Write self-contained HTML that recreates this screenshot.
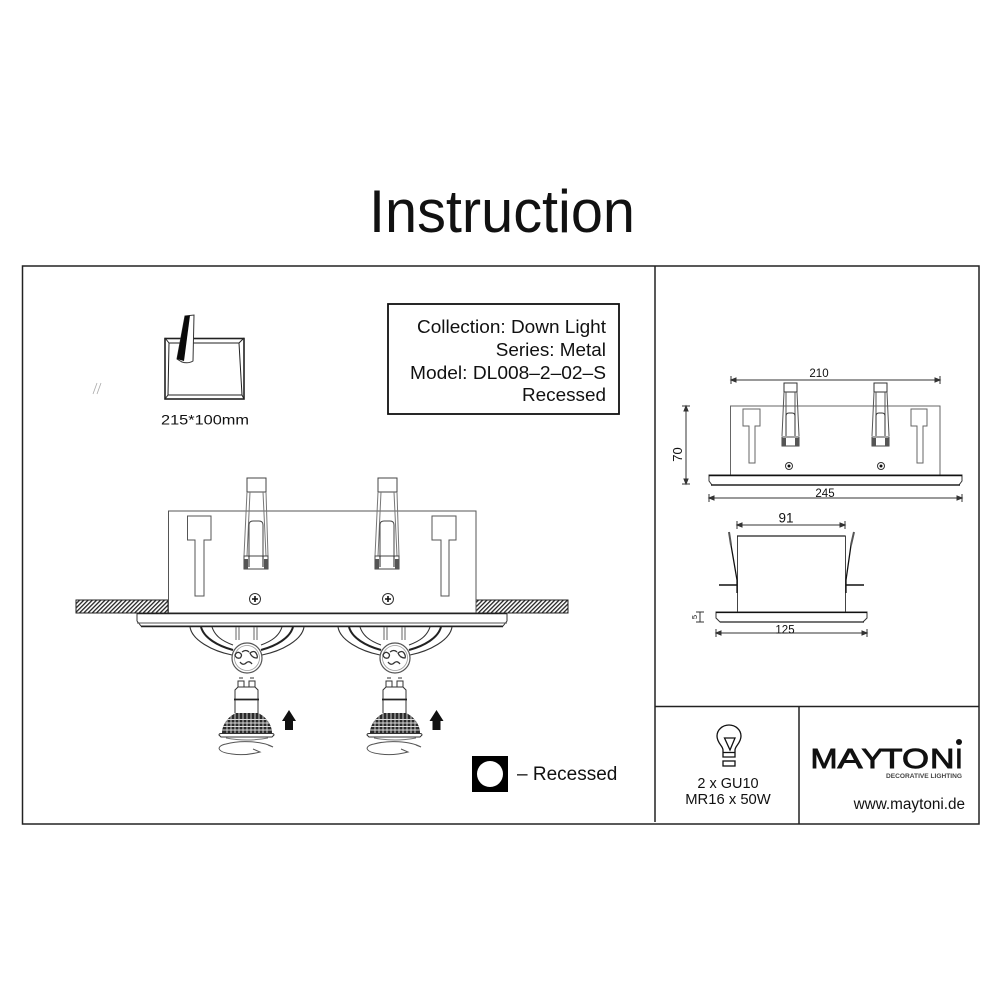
<!DOCTYPE html>
<html><head><meta charset="utf-8">
<style>
html,body{margin:0;padding:0;background:#fff;width:1000px;height:1000px;overflow:hidden}
svg{display:block}
text{font-family:"Liberation Sans",sans-serif;fill:#111}
</style></head><body>
<svg width="1000" height="1000" viewBox="0 0 1000 1000" xmlns="http://www.w3.org/2000/svg">
<defs>
<pattern id="h" width="3" height="3" patternUnits="userSpaceOnUse" patternTransform="rotate(45)">
<rect width="3" height="3" fill="#fff"/><rect width="1.3" height="3" fill="#222"/>
</pattern>
<g id="br">
<path d="M247 478H266V492H247Z" fill="#fff" fill-opacity="0" stroke="#444" stroke-width="1"/>
<path d="M247 492L244 556M266 492L268 556M250 492L247 556M263 492L266 556" fill="none" stroke="#777" stroke-width="1"/>
<path d="M249 556V525Q249 521 253 521H259Q263 521 263 525V556" fill="none" stroke="#444" stroke-width="1"/>
<path d="M244 556H268L268 569H244Z" fill="#fff" stroke="#444" stroke-width="1"/>
<path d="M244 559L248 559V569H244ZM264 559L268 559V569H264Z" fill="#555"/>
<path d="M249 556V567M263 556V567" stroke="#222" stroke-width="1"/>
</g>
<g id="br2">
<path d="M784 383H797V392H784Z" fill="none" stroke="#333" stroke-width="1"/>
<path d="M784 392L782 436M797 392L799 436M786 392V436M795 392V436" fill="none" stroke="#555" stroke-width="1"/>
<path d="M786 436V416Q786 413 789 413H792Q795 413 795 416V436" fill="none" stroke="#333" stroke-width="1"/>
<path d="M782 437H799V446H782Z" fill="none" stroke="#444" stroke-width="1"/>
<path d="M782 438h4v8h-4ZM795 438h4v8h-4Z" fill="#555"/>
</g>
<clipPath id="dome"><path d="M222 733C222 724 229 716 236 713H258C265 716 272 724 272 733Z"/></clipPath>
<g id="fx">
<path d="M190 627C192 640 212 651 232 655M304 627C302 640 282 651 262 655" fill="none" stroke="#333" stroke-width="1.1"/>
<path d="M201 627C204 638 218 646 233 650M293 627C290 638 276 646 261 650" fill="none" stroke="#222" stroke-width="2"/>
<path d="M212 627C215 636 222 641 233 645M282 627C279 636 272 641 261 645" fill="none" stroke="#333" stroke-width="1.1"/>
<path d="M236 627V640M239 627V640M254 627V640M257 627V640" stroke="#666" stroke-width="1"/>
<circle cx="247" cy="658" r="15" fill="#fff" stroke="#555" stroke-width="1.2"/>
<circle cx="247" cy="658" r="12.5" fill="none" stroke="#999" stroke-width=".8"/>
<path d="M240 662q3 4 6 1t6 1M235 655q2-4 5-2t0 5q-4 1-5-3ZM250 653q4-3 6 0t1 5q-5 0-7-5ZM242 652q4-3 7 0" fill="none" stroke="#333" stroke-width="1.3"/>
<path d="M238 681h6v6h-6ZM249 681h6v6h-6ZM239 678h4M250 678h4" fill="none" stroke="#333" stroke-width="1"/>
<path d="M235 713V690L238 687H255L258 690V713" fill="#fff" stroke="#333" stroke-width="1"/>
<path d="M234 699.500H259" stroke="#222" stroke-width="1.800"/>
<path d="M222 733C222 724 229 716 236 713H258C265 716 272 724 272 733Z" fill="#2a2a2a"/>
<g clip-path="url(#dome)"><path d="M220 719.500H274M220 723H274M220 726.500H274M220 730H274M227 712V734M231 712V734M235 712V734M239 712V734M243 712V734M247 712V734M251 712V734M255 712V734M259 712V734M263 712V734M267 712V734" stroke="#ddd" stroke-width=".9" fill="none"/></g>
<path d="M219 735Q219 733.500 221 733.500H272Q274 733.500 274 735L272 737H221Z" fill="#fff" stroke="#333" stroke-width="1"/>
<path d="M226 738Q247 742 268 738" fill="none" stroke="#777" stroke-width="1"/>
<path d="M253 749L260 752Q245 756 232 754C216 752 216 746 226 744C240 740 262 741 273 747L268 745" fill="none" stroke="#555" stroke-width="1"/>
</g>
<path id="ar" d="M289 710L282 721H285V730H293V721H296Z" fill="#111"/>
</defs>

<text x="369" y="232" font-size="60" textLength="266" lengthAdjust="spacingAndGlyphs">Instruction</text>

<rect x="22.5" y="266" width="956.5" height="558" fill="none" stroke="#222" stroke-width="1.5"/>
<path d="M655 266V822M655 706.5H979M799 706.5V824" stroke="#222" stroke-width="1.5" fill="none"/>

<!-- thumbnail -->
<g fill="none" stroke="#222">
<rect x="165" y="338.5" width="79" height="60.5" stroke-width="1.6"/>
<path d="M169 343H239L242 395H168Z" stroke-width="1"/>
<path d="M165 338L169 343M244 338L239 343M165 399L168 395M244 399L242 395" stroke-width="1"/>
</g>
<path d="M185 316L194 315L193 361Q188 364 182 362L177 359Z" fill="#fff" stroke="#333" stroke-width="1"/>
<path d="M185 316L190 315.5L184 361L177 359Z" fill="#0a0a0a"/>
<path d="M93 394L97 383M97 394L101 383" stroke="#aaa" stroke-width=".8"/>
<text x="161" y="424.500" font-size="14" textLength="88" lengthAdjust="spacingAndGlyphs">215*100mm</text>

<!-- info box -->
<rect x="388" y="304" width="231" height="110" fill="none" stroke="#111" stroke-width="1.8"/>
<g font-size="18.900">
<text x="417" y="333" textLength="189" lengthAdjust="spacingAndGlyphs">Collection: Down Light</text>
<text x="606" y="356" text-anchor="end">Series: Metal</text>
<text x="410" y="379" textLength="196" lengthAdjust="spacingAndGlyphs">Model: DL008–2–02–S</text>
<text x="606" y="401" text-anchor="end">Recessed</text>
</g>

<!-- main drawing -->
<rect x="76" y="600" width="92" height="13" fill="url(#h)" stroke="#222" stroke-width="1"/>
<rect x="476" y="600" width="92" height="13" fill="url(#h)" stroke="#222" stroke-width="1"/>
<rect x="168.500" y="511" width="307.500" height="102" fill="#fff" stroke="#555" stroke-width="1"/>
<path d="M187.500 516H211V540H204V596H195V540H187.500Z" fill="none" stroke="#555" stroke-width="1"/>
<path d="M432 516H456V540H449V596H441V540H432Z" fill="none" stroke="#555" stroke-width="1"/>
<use href="#br"/><use href="#br" x="131"/>
<g fill="none" stroke="#333">
<circle cx="255" cy="599" r="5.500" stroke-width="1"/><path d="M252 599H258M255 596V602" stroke="#111" stroke-width="1.6"/>
<circle cx="388" cy="599" r="5.500" stroke-width="1"/><path d="M385 599H391M388 596V602" stroke="#111" stroke-width="1.6"/>
</g>
<path d="M137 613H507V621L503 626H141L137 621Z" fill="#fff" stroke="#333" stroke-width="1"/>
<path d="M137 613.500H507" stroke="#222" stroke-width="1.400"/>
<path d="M137 623H507" stroke="#555" stroke-width="1"/>
<path d="M141 626.500H503" stroke="#222" stroke-width="1.500"/>
<use href="#fx"/><use href="#fx" x="148"/>
<use href="#ar"/><use href="#ar" x="147.500"/>

<!-- legend -->
<rect x="472" y="756" width="36" height="36" fill="#000"/>
<circle cx="490" cy="774" r="13" fill="#fff"/>
<text x="517" y="780" font-size="19">– Recessed</text>

<!-- top right -->
<g fill="none" stroke="#333" stroke-width="1">
<path d="M731 380H940M731 376V384M940 376V384"/>
<path d="M731 380l5-2v4ZM940 380l-5-2v4Z" fill="#333"/>
<rect x="730.500" y="406" width="209.500" height="69" stroke="#666"/>
<path d="M743 409H760V426H755V463H749V426H743Z" stroke="#666"/>
<path d="M911 409H927V426H923V463H917V426H911Z" stroke="#666"/>
<path d="M686 406V484M682 406H690M682 484H690"/>
<path d="M686 406l-2 5h4ZM686 484l-2-5h4Z" fill="#333"/>
<path d="M709 498H962M709 494V502M962 494V502"/>
<path d="M709 498l5-2v4ZM962 498l-5-2v4Z" fill="#333"/>
<circle cx="789" cy="466" r="3.500"/><circle cx="881" cy="466" r="3.500"/>
<path d="M709 475H962V481L959 485H712L709 481Z"/>
<path d="M709 475.500H962" stroke="#111" stroke-width="1.400"/>
<path d="M711 485H960" stroke="#222" stroke-width="1.400"/>
</g>
<circle cx="789" cy="466" r="1.500" fill="#111"/><circle cx="881" cy="466" r="1.500" fill="#111"/>
<use href="#br2"/><use href="#br2" x="90"/>
<text x="819" y="377" font-size="11.500" text-anchor="middle">210</text>
<text x="825" y="497" font-size="11.500" text-anchor="middle">245</text>
<text transform="translate(682 454.500) rotate(-90)" font-size="13" text-anchor="middle">70</text>

<!-- lower right -->
<g fill="none" stroke="#333" stroke-width="1">
<path d="M737 525H845M737 521V529M845 521V529"/>
<path d="M737 525l5-2v4ZM845 525l-5-2v4Z" fill="#333"/>
<rect x="737.500" y="536" width="108" height="76" stroke="#444"/>
<path d="M737 536H845" stroke="#222" stroke-width="1.300"/>
<path d="M716 612H867V618L863 622H720L716 618Z"/>
<path d="M716 612.500H867" stroke="#111" stroke-width="1.300"/>
<path d="M720 622H864" stroke="#222" stroke-width="1.300"/>
<path d="M700 612V622M696 612H704M696 622H704"/>
<path d="M716 633H867M716 629V637M867 629V637"/>
<path d="M716 633l5-2v4ZM867 633l-5-2v4Z" fill="#333"/>
<path d="M729 532L731 545M854 532L851 545" stroke="#555" stroke-width="2"/>
<path d="M731 545L737 580V593M851 545L846 580V593" stroke="#111" stroke-width="1.300"/>
<path d="M719 585H737M864 585H846" stroke="#111" stroke-width="1.400"/>
</g>
<text x="786" y="522.500" font-size="13.500" text-anchor="middle">91</text>
<text x="785" y="633.500" font-size="11.500" text-anchor="middle">125</text>
<text transform="translate(697 617) rotate(-90)" font-size="7.500" text-anchor="middle">5</text>

<!-- lamp icon -->
<g fill="none" stroke="#111" stroke-width="1.300">
<path d="M723 757V750C723 746 717 743 717 736A12 11 0 0 1 741 736C741 743 735 746 735 750V757Z"/>
<path d="M724.500 738H735L730 750Z"/>
<path d="M723 752.500H735"/>
<rect x="723" y="761" width="12" height="5"/>
</g>
<text x="728" y="788" font-size="14.500" text-anchor="middle">2 x GU10</text>
<text x="728" y="804" font-size="14.800" text-anchor="middle">MR16 x 50W</text>

<!-- logo -->
<g font-size="28" style="stroke:#111;stroke-width:.9">
<text x="810.500" y="768" textLength="27" lengthAdjust="spacingAndGlyphs">M</text>
<text x="837.500" y="768" textLength="25" lengthAdjust="spacingAndGlyphs">A</text>
<text x="861.500" y="768" textLength="22" lengthAdjust="spacingAndGlyphs">Y</text>
<text x="881.500" y="768" textLength="21" lengthAdjust="spacingAndGlyphs">T</text>
<text x="902" y="768" textLength="27" lengthAdjust="spacingAndGlyphs">O</text>
<text x="930" y="768" textLength="24.500" lengthAdjust="spacingAndGlyphs">N</text>
<text x="955" y="768">I</text>
</g>
<circle cx="959" cy="742" r="3" fill="#111"/>
<text x="886" y="778" font-size="6.500" font-weight="bold" textLength="76" lengthAdjust="spacingAndGlyphs" style="fill:#444">DECORATIVE LIGHTING</text>
<text x="965" y="809" font-size="15.300" text-anchor="end">www.maytoni.de</text>
</svg>
</body></html>
